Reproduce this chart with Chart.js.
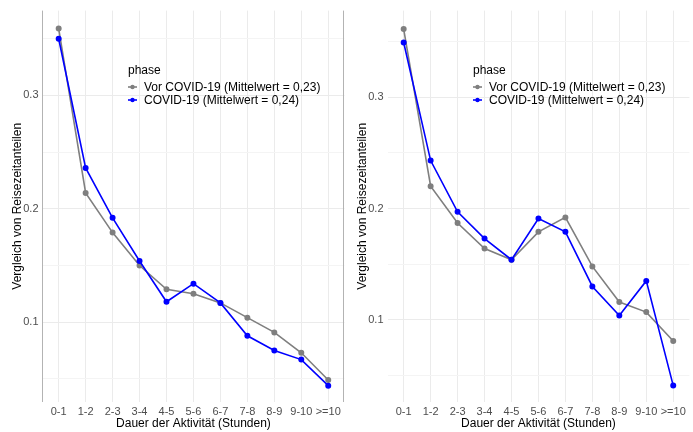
<!DOCTYPE html>
<html lang="de">
<head>
    <meta charset="UTF-8">
    <title>Reisezeitanteile</title>
    <script src="https://cdn.jsdelivr.net/npm/chart.js"></script>
    <style>
        body { margin: 0; width: 693px; height: 432px; overflow: hidden; background: #fff; position: relative; font-family: "Liberation Sans", Arial, sans-serif; }
        .panel { position: absolute; top: 0; width: 350px; height: 432px; }
        .legend { position: absolute; left: 128px; top: 63px; font-size: 12px; color: #000; }
        .legend .title { height: 18px; }
        .legend .row { display: flex; align-items: center; height: 12.5px; white-space: nowrap; }
        .legend svg { margin-right: 7px; }
    </style>
</head>
<body>
    <div class="panel" style="left:0">
        <canvas id="chartLeft" width="350" height="432"></canvas>
        <div class="legend" id="legendLeft"></div>
    </div>
    <div class="panel" style="left:345px">
        <canvas id="chartRight" width="350" height="432"></canvas>
        <div class="legend" id="legendRight"></div>
    </div>
    <script>
        // Kategorien (Dauer der Aktivität)
        var categories = ['0-1', '1-2', '2-3', '3-4', '4-5', '5-6', '6-7', '7-8', '8-9', '9-10', '>=10'];
        var seriesNames = ['Vor COVID-19 (Mittelwert = 0,23)', 'COVID-19 (Mittelwert = 0,24)'];
        var seriesColors = ['#7f7f7f', '#0000ff'];
        var yTicks = [0.1, 0.2, 0.3];

        // linkes Panel
        var leftVor   = [0.359, 0.214, 0.179, 0.150, 0.129, 0.125, 0.117, 0.104, 0.091, 0.073, 0.049];
        var leftCovid = [0.350, 0.236, 0.192, 0.154, 0.118, 0.134, 0.117, 0.088, 0.075, 0.067, 0.044];
        // rechtes Panel
        var rightVor   = [0.361, 0.220, 0.187, 0.164, 0.154, 0.179, 0.192, 0.148, 0.116, 0.107, 0.081];
        var rightCovid = [0.349, 0.243, 0.197, 0.173, 0.154, 0.191, 0.179, 0.130, 0.104, 0.135, 0.041];

        function toPoints(values) {
            return values.map(function (v, i) { return { x: i, y: v }; });
        }

        // Rahmenlinien links/rechts vom Plotbereich
        var borderPlugin = {
            id: 'borders',
            afterDraw: function (chart, args, opts) {
                if (!opts.lines) return;
                var ctx = chart.ctx, a = chart.chartArea;
                ctx.save();
                ctx.strokeStyle = '#b3b3b3';
                ctx.lineWidth = 1;
                opts.lines.forEach(function (side) {
                    var x = Math.round(a[side]) - 0.5;
                    ctx.beginPath();
                    ctx.moveTo(x, a.top);
                    ctx.lineTo(x, a.bottom);
                    ctx.stroke();
                });
                ctx.restore();
            }
        };

        function makePanel(id, vor, covid, yMin, yMax, lines) {
            new Chart(document.getElementById(id), {
                type: 'line',
                data: {
                    datasets: [{
                        label: seriesNames[1],
                        data: toPoints(covid),
                        borderColor: seriesColors[1],
                        backgroundColor: seriesColors[1],
                        borderWidth: 1.6,
                        pointRadius: 2.2,
                        order: 0
                    }, {
                        label: seriesNames[0],
                        data: toPoints(vor),
                        borderColor: seriesColors[0],
                        backgroundColor: seriesColors[0],
                        borderWidth: 1.6,
                        pointRadius: 2.2,
                        order: 1
                    }]
                },
                options: {
                    responsive: false,
                    animation: false,
                    devicePixelRatio: 1,
                    layout: { padding: { top: 5, right: 0.5, left: 0, bottom: 0 } },
                    plugins: {
                        legend: { display: false },
                        tooltip: { enabled: false },
                        borders: { lines: lines }
                    },
                    scales: {
                        x: {
                            type: 'linear',
                            min: -0.6,
                            max: 10.6,
                            afterBuildTicks: function (s) {
                                s.ticks = categories.map(function (c, i) { return { value: i }; });
                            },
                            afterFit: function (s) { s.height = 30; },
                            ticks: {
                                autoSkip: false,
                                maxRotation: 0,
                                padding: 3,
                                color: '#4d4d4d',
                                font: { family: 'Liberation Sans', size: 11 },
                                callback: function (v) { return categories[v]; }
                            },
                            grid: { color: '#ebebeb', drawTicks: false },
                            border: { display: false },
                            title: {
                                display: true,
                                text: 'Dauer der Aktivität (Stunden)',
                                color: '#000',
                                font: { family: 'Liberation Sans', size: 12 },
                                padding: { top: 0, bottom: 1 }
                            }
                        },
                        y: {
                            min: yMin,
                            max: yMax,
                            afterBuildTicks: function (s) {
                                s.ticks = [0.05, 0.1, 0.15, 0.2, 0.25, 0.3, 0.35].map(function (v) { return { value: v }; });
                            },
                            afterFit: function (s) { s.width = 42.5; },
                            ticks: {
                                padding: 4,
                                color: '#4d4d4d',
                                font: { family: 'Liberation Sans', size: 11 },
                                callback: function (v) {
                                    var hit = yTicks.some(function (t) { return Math.abs(t - v) < 1e-9; });
                                    return hit ? v.toFixed(1) : '';
                                }
                            },
                            grid: {
                                drawTicks: false,
                                color: function (c) {
                                    var v = c.tick ? c.tick.value : 0;
                                    var major = yTicks.some(function (t) { return Math.abs(t - v) < 1e-9; });
                                    return major ? '#ebebeb' : '#f4f4f4';
                                }
                            },
                            border: { display: false },
                            title: {
                                display: true,
                                text: 'Vergleich von Reisezeitanteilen',
                                color: '#000',
                                font: { family: 'Liberation Sans', size: 12 },
                                padding: { top: 10, bottom: 4 }
                            }
                        }
                    }
                },
                plugins: [borderPlugin]
            });
        }

        makePanel('chartLeft', leftVor, leftCovid, 0.0296, 0.3748, ['left', 'right']);
        makePanel('chartRight', rightVor, rightCovid, 0.0263, 0.3776, []);

        function buildLegend(id) {
            var el = document.getElementById(id);
            var html = '<div class="title">phase</div>';
            seriesNames.forEach(function (name, i) {
                html += '<div class="row"><svg width="9" height="8"><line x1="0" y1="4" x2="9" y2="4" stroke="' +
                    seriesColors[i] + '" stroke-width="1.6"/><circle cx="4.5" cy="4" r="2.2" fill="' +
                    seriesColors[i] + '"/></svg>' + name + '</div>';
            });
            el.innerHTML = html;
        }
        buildLegend('legendLeft');
        buildLegend('legendRight');
    </script>
</body>
</html>
